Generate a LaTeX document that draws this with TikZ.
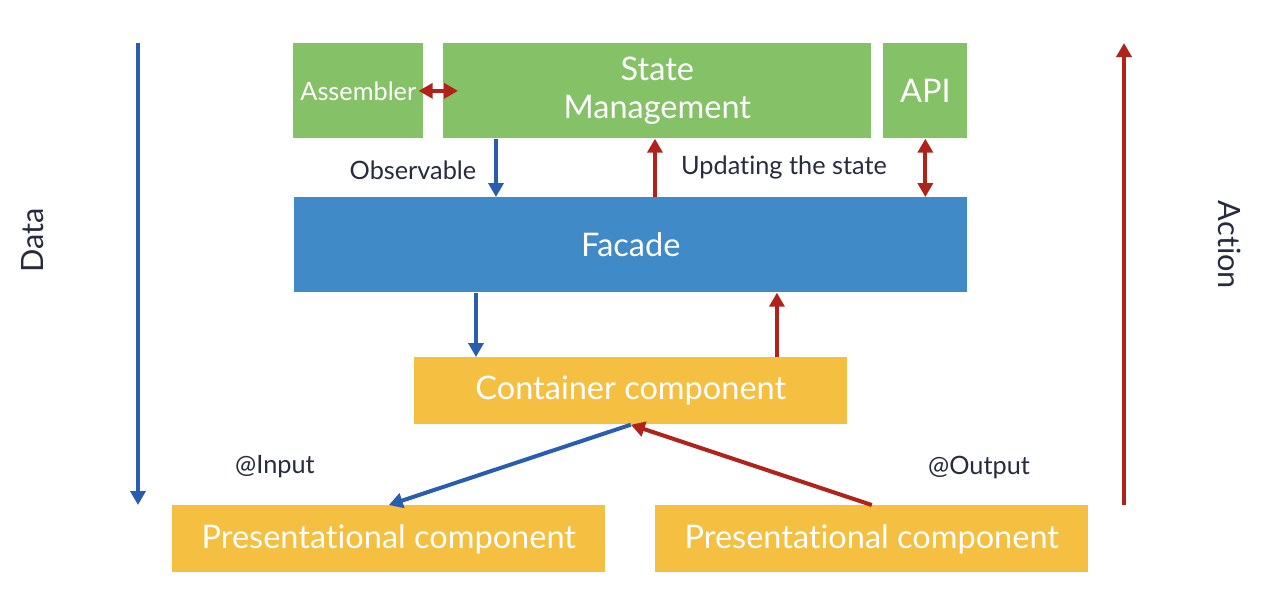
\documentclass[tikz,border=0pt]{standalone}
\usepackage{fontspec}
\setmainfont{Lato}[Ligatures={NoCommon,NoRare}]
\usetikzlibrary{positioning,arrows.meta}
\definecolor{stategreen}{HTML}{85C166}
\definecolor{facadeblue}{HTML}{408AC7}
\definecolor{compyellow}{HTML}{F5BF42}
\definecolor{dataflow}{HTML}{2A5DB0}
\definecolor{actionflow}{HTML}{B0231A}
\definecolor{ink}{HTML}{262B3D}
\tikzset{
  every node/.style={text=ink},
  layer/.style={rectangle, inner sep=0pt, anchor=north west, fill=#1,
    text=white, font=\fontsize{18.5}{22}\selectfont, align=center},
  dataarr/.style={draw=dataflow, line width=0.08cm,
    -{Triangle[width=0.3cm,length=0.28cm]}},
  actarr/.style={draw=actionflow, line width=0.08cm,
    -{Triangle[width=0.3cm,length=0.28cm]}},
  bothact/.style={draw=actionflow, line width=0.08cm,
    {Triangle[width=0.3cm,length=0.28cm]}-{Triangle[width=0.3cm,length=0.28cm]}},
  tag/.style={font=\fontsize{14.4}{17}\selectfont}
}

\begin{document}
\begin{tikzpicture}[x=0.02cm,y=0.02cm]
\useasboundingbox (0,0) rectangle (1282,-610);

% =========================
% TOP ROW (store side)
% =========================
\node[layer=stategreen, minimum width=2.6cm, minimum height=1.9cm,
      font=\fontsize{14.4}{17}\selectfont] (asm) at (293,-43) {Assembler};
\node[layer=stategreen, minimum width=8.56cm, minimum height=1.9cm] (state) at (443,-43) {State\\Management};
\node[layer=stategreen, minimum width=1.68cm, minimum height=1.9cm] (api) at (883,-43) {API};

% =========================
% FACADE + COMPONENTS
% =========================
\node[layer=facadeblue, minimum width=13.46cm, minimum height=1.9cm] (facade) at (294,-197) {Facade};
\node[layer=compyellow, minimum width=8.66cm, minimum height=1.34cm] (cont) at (414,-357) {Container component};
\node[layer=compyellow, minimum width=8.66cm, minimum height=1.34cm] (presL) at (172,-505) {Presentational component};
\node[layer=compyellow, minimum width=8.66cm, minimum height=1.34cm] (presR) at (655,-505) {Presentational component};

% =========================
% CONNECTORS
% =========================
\draw[bothact, shorten <=-0.1cm, shorten >=-0.3cm] (asm.east) -- (state.west);
\draw[dataarr] ([xshift=1.06cm]state.south west) -- ([xshift=1.06cm]state.south west |- facade.north);
\draw[actarr] ([xshift=4.24cm]state.south west |- facade.north) -- ([xshift=4.24cm]state.south west);
\draw[bothact] (api.south) -- (api.south |- facade.north);
\draw[dataarr] ([xshift=1.24cm]cont.north west |- facade.south) -- ([xshift=1.24cm]cont.north west);
\draw[actarr] ([xshift=7.26cm]cont.north west) -- ([xshift=7.26cm]cont.north west |- facade.south);
\draw[dataarr] (cont.south) -- (presL.north);
\draw[actarr] (presR.north) -- (cont.south);

% side flows
\coordinate (dtop) at (138,-43);
\coordinate (dbot) at (138,-505);
\coordinate (atop) at (1124,-43);
\coordinate (abot) at (1124,-505);
\draw[dataarr] (dtop) -- (dbot);
\draw[actarr] (abot) -- (atop);

% =========================
% LABELS
% =========================
\node[tag] (obs) at (413,-170) {Observable};
\node[tag] (upd) at (784,-167) {Updating the state};
\node[tag] (inp) at (275,-467) {@Input};
\node[tag] (outp) at (979,-467) {@Output};
\node[tag, rotate=90, font=\fontsize{17.5}{20}\selectfont] (data) at (33,-240) {Data};
\node[tag, rotate=-90, font=\fontsize{17.5}{20}\selectfont] (act) at (1230,-245) {Action};

\end{tikzpicture}
\end{document}
